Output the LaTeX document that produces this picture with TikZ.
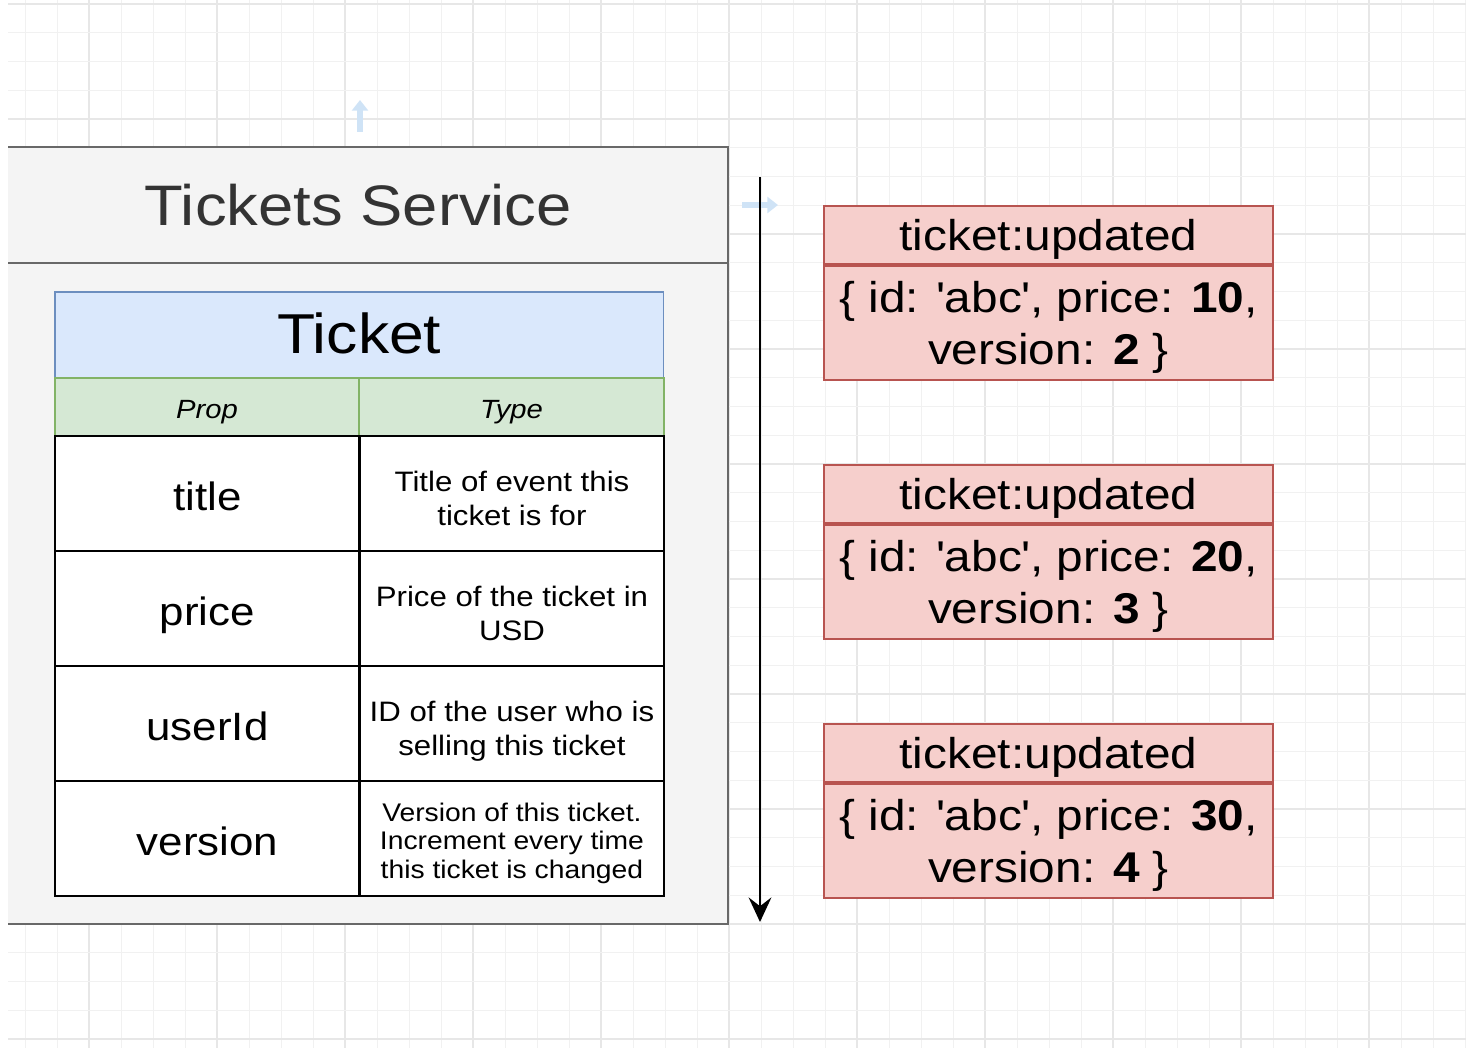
\documentclass[tikz,border=0pt]{standalone}
\usepackage{fontspec}
\setmainfont{Liberation Sans}[FakeStretch=1.11]
\usetikzlibrary{arrows.meta}

\definecolor{gridminor}{HTML}{F1F1F1}
\definecolor{gridmajor}{HTML}{E7E7E7}
\definecolor{svcfill}{HTML}{F4F4F4}
\definecolor{svcgray}{HTML}{686868}
\definecolor{svctext}{HTML}{333333}
\definecolor{tblue}{HTML}{DAE8FC}
\definecolor{tblueline}{HTML}{6C8EBF}
\definecolor{tgreen}{HTML}{D5E8D4}
\definecolor{tgreenline}{HTML}{82B366}
\definecolor{evfill}{HTML}{F6CFCC}
\definecolor{evline}{HTML}{B85450}
\definecolor{hintblue}{HTML}{CFE3F6}

\begin{document}
\begin{tikzpicture}[
        x=0.02cm, y=-0.02cm,
        declare function = {
                rowH  = 115;
                evGap = 259;
            },
        gridthin/.style  = {color=gridminor, line width=0.5pt},
        gridthick/.style = {color=gridmajor, line width=0.8pt},
        svcbox/.style    = {fill=svcfill, minimum width=14.76cm, minimum height=15.52cm, inner sep=0pt},
        svchead/.style   = {minimum width=14.76cm, minimum height=2.3cm, inner sep=0pt, text=svctext, text height=23.2pt, text depth=0pt, font=\fontsize{32.5}{38}\selectfont},
        svcedge/.style   = {draw=svcgray, line width=1.2pt},
        tblhead/.style   = {draw=tblueline, fill=tblue, line width=0.9pt, minimum width=12.18cm, minimum height=1.72cm, inner sep=0pt, text height=21.5pt, text depth=0pt, font=\fontsize{32}{38}\selectfont},
        colhead/.style   = {draw=tgreenline, fill=tgreen, line width=0.9pt, minimum width=6.09cm, minimum height=1.16cm, inner sep=0pt, text height=13.6pt, text depth=0pt, font=\fontsize{15}{18}\selectfont\itshape},
        propcell/.style  = {draw=black, fill=white, line width=1.4pt, minimum width=6.09cm, minimum height=2.3cm, inner sep=0pt, text height=18.7pt, text depth=0pt, font=\fontsize{22.5}{27}\selectfont},
        typecell/.style  = {propcell, align=center, text height=35.7pt, text depth=0pt, font=\fontsize{16}{19.3}\selectfont},
        typesmall/.style = {propcell, align=center, text height=44.8pt, text depth=0pt, font=\fontsize{14.5}{16.2}\selectfont},
        evhead/.style    = {draw=evline, fill=evfill, line width=1.1pt, minimum width=8.98cm, minimum height=1.16cm, inner sep=0pt, text height=18.1pt, text depth=0pt, font=\fontsize{24.5}{29.5}\selectfont},
        evbody/.style    = {evhead, minimum height=2.28cm, align=center, text height=47.6pt, text depth=0pt},
        timeline/.style  = {line width=1.1pt, -{Stealth[length=14pt, width=13pt, inset=5pt]}},
        hint/.style      = {hintblue, line width=3pt, -{Triangle[length=6pt, width=9pt]}},
    ]
    \path[use as bounding box] (0,0) rectangle (1466,1048);

    % grid
    \foreach \k in {0,...,45} \draw[gridthin] (25+32*\k,0) -- (25+32*\k,1048);
    \foreach \k in {2,6,...,42} \draw[gridthick] (25+32*\k,0) -- (25+32*\k,1048);
    \foreach \j in {0,...,36} \draw[gridthin] (8,4+28.75*\j) -- (1466,4+28.75*\j);
    \foreach \j in {0,4,...,36} \draw[gridthick] (8,4+28.75*\j) -- (1466,4+28.75*\j);

    % tickets service
    \begin{scope}
        \clip (8,0) rectangle (1466,1048);
        \node[svcbox, anchor=north west] (svc) at (-11,147) {};
        \node[svchead, anchor=north west] (svchead) at (-11,147) {Tickets Service};
        \draw[svcedge] (svc.north west) -- (svc.north east) -- (svc.south east) -- (svc.south west);
        \draw[svcedge] (svchead.south west) -- (svchead.south east);
    \end{scope}

    \coordinate (hint up a) at (360,132);
    \coordinate (hint up b) at (360,100);
    \coordinate (hint rt a) at (742,205);
    \coordinate (hint rt b) at (778,205);
    \draw[hint] (hint up a) -- (hint up b);
    \draw[hint] (hint rt a) -- (hint rt b);

    % ticket model
    \node[tblhead, anchor=north west] (ticket) at (54,291) {Ticket};
    \node[colhead, anchor=north west] (prophead) at (54,377) {Prop};
    \node[colhead, anchor=north west] (typehead) at (358.5,377) {Type};
    \foreach \prop/\desc/\dstyle [count=\i from 0] in {
            title/{Title of event this\\ticket is for}/typecell,
            price/{Price of the ticket in\\USD}/typecell,
            userId/{ID of the user who is\\selling this ticket}/typecell,
            version/{Version of this ticket.\\Increment every time\\this ticket is changed}/typesmall}
        {
            \node[propcell, anchor=north west] (prop\i) at (54,435+rowH*\i) {\prop};
            \node[\dstyle, anchor=north west] (type\i) at (358.5,435+rowH*\i) {\desc};
        }

    % events
    \coordinate (tl start) at (760,177);
    \coordinate (tl end) at (760,922);
    \draw[timeline] (tl start) -- (tl end);

    \foreach \price/\ver [count=\i from 0] in {10/2, 20/3, 30/4}
        {
            \node[evhead, anchor=north west] (evhead\i) at (823,205+evGap*\i) {ticket:updated};
            \node[evbody, anchor=north] (evbody\i) at (evhead\i.south) {\{ id: \textquotesingle abc\textquotesingle, price: \textbf{\price},\\version: \textbf{\ver} \}};
        }
\end{tikzpicture}
\end{document}
